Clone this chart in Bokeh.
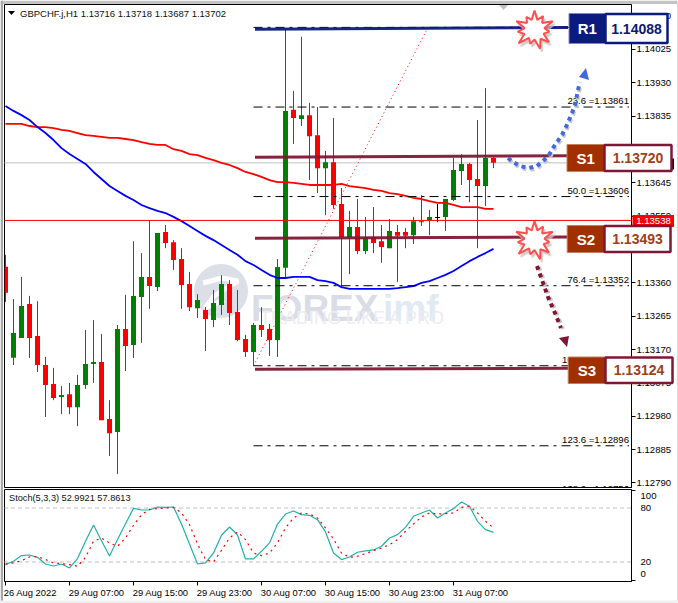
from bokeh.plotting import figure
from bokeh.layouts import column
from bokeh.models import Range1d, FixedTicker, NumeralTickFormatter
from bokeh.core.properties import value
from bokeh.embed import file_html
from bokeh.resources import INLINE
import math

# ---- price data (hourly candles) ----
opens = [1.13406,1.13147,1.13203,1.13300,1.13209,1.13126,1.13072,1.13035,1.13043,1.13006,1.13069,1.13129,1.13135,1.12972,1.12935,1.13229,1.13183,1.13320,1.13377,1.13348,1.13505,1.13476,1.13428,1.13357,1.13288,1.13283,1.13254,1.13297,1.13357,1.13277,1.13200,1.13163,1.13240,1.13229,1.13197,1.13403,1.13853,1.13827,1.13838,1.13781,1.13687,1.13704,1.13585,1.13491,1.13519,1.13451,1.13491,1.13479,1.13459,1.13505,1.13505,1.13496,1.13533,1.13539,1.13548,1.13548,1.13596,1.13679,1.13699,1.13656,1.13636,1.13716]
highs = [1.13440,1.13314,1.13377,1.13323,1.13308,1.13149,1.13118,1.13066,1.13075,1.13098,1.13226,1.13254,1.13214,1.13026,1.13240,1.13326,1.13479,1.13445,1.13539,1.13502,1.13525,1.13482,1.13459,1.13391,1.13328,1.13291,1.13340,1.13382,1.13368,1.13340,1.13212,1.13246,1.13291,1.13243,1.13428,1.14083,1.13907,1.14061,1.13873,1.13861,1.13736,1.13830,1.13630,1.13565,1.13599,1.13548,1.13576,1.13525,1.13542,1.13525,1.13516,1.13548,1.13610,1.13568,1.13585,1.13599,1.13716,1.13727,1.13702,1.13824,1.13915,1.13718]
lows = [1.13306,1.13126,1.13203,1.13146,1.13106,1.12978,1.13026,1.12986,1.12986,1.12952,1.13058,1.13075,1.12969,1.12867,1.12816,1.13109,1.13146,1.13189,1.13286,1.13337,1.13459,1.13397,1.13286,1.13280,1.13260,1.13166,1.13234,1.13269,1.13240,1.13194,1.13149,1.13123,1.13206,1.13152,1.13149,1.13374,1.13756,1.13807,1.13653,1.13616,1.13553,1.13571,1.13345,1.13385,1.13442,1.13442,1.13445,1.13417,1.13459,1.13363,1.13459,1.13471,1.13522,1.13496,1.13533,1.13508,1.13593,1.13639,1.13590,1.13459,1.13579,1.13687]
closes = [1.13332,1.13217,1.13294,1.13203,1.13126,1.13069,1.13032,1.13041,1.13006,1.13069,1.13129,1.13135,1.12969,1.12932,1.13229,1.13180,1.13323,1.13377,1.13351,1.13502,1.13474,1.13425,1.13354,1.13291,1.13311,1.13257,1.13303,1.13357,1.13274,1.13197,1.13163,1.13240,1.13226,1.13197,1.13405,1.13850,1.13830,1.13838,1.13778,1.13687,1.13704,1.13582,1.13491,1.13519,1.13451,1.13491,1.13474,1.13462,1.13508,1.13494,1.13494,1.13536,1.13536,1.13548,1.13545,1.13599,1.13682,1.13699,1.13653,1.13636,1.13716,1.13702]
blue_ma = [1.13864,1.13850,1.13838,1.13824,1.13804,1.13787,1.13767,1.13744,1.13727,1.13713,1.13699,1.13676,1.13656,1.13636,1.13622,1.13608,1.13596,1.13582,1.13573,1.13565,1.13559,1.13548,1.13536,1.13522,1.13508,1.13494,1.13482,1.13468,1.13454,1.13440,1.13422,1.13411,1.13397,1.13383,1.13374,1.13374,1.13377,1.13377,1.13377,1.13368,1.13365,1.13360,1.13348,1.13343,1.13343,1.13343,1.13343,1.13343,1.13343,1.13345,1.13348,1.13351,1.13360,1.13365,1.13374,1.13383,1.13394,1.13408,1.13422,1.13434,1.13445,1.13457]
red_ma = [1.13813,1.13813,1.13813,1.13807,1.13804,1.13804,1.13801,1.13796,1.13793,1.13787,1.13781,1.13779,1.13776,1.13773,1.13773,1.13770,1.13767,1.13761,1.13756,1.13753,1.13753,1.13741,1.13736,1.13727,1.13724,1.13716,1.13710,1.13702,1.13696,1.13687,1.13676,1.13670,1.13662,1.13653,1.13647,1.13647,1.13645,1.13642,1.13639,1.13639,1.13639,1.13639,1.13642,1.13636,1.13633,1.13630,1.13625,1.13622,1.13616,1.13613,1.13608,1.13602,1.13599,1.13593,1.13588,1.13588,1.13582,1.13576,1.13576,1.13576,1.13571,1.13571]
stoch_main = [17.1,20.8,27.1,27.8,25.2,17.8,15.6,17.8,13.4,23.8,43.0,61.1,43.7,26.7,44.9,62.6,79.6,77.8,77.8,81.1,80.7,81.1,62.2,40.0,17.8,19.0,30.0,49.7,58.9,50.0,23.4,23.4,31.9,41.2,62.2,73.3,76.7,72.6,71.9,67.0,53.4,30.0,22.7,25.6,30.8,32.3,33.4,37.5,46.7,50.4,58.5,70.8,74.5,77.8,68.9,74.5,79.3,86.7,81.9,65.2,56.0,52.99]
stoch_signal = [17.8,19.0,21.5,25.6,26.0,22.7,19.0,18.2,17.1,15.3,25.2,43.0,46.7,41.2,37.5,46.7,60.8,72.6,78.5,79.3,80.0,80.7,74.5,61.5,40.0,22.7,20.0,33.0,46.7,53.4,44.9,30.0,27.1,30.0,41.2,57.8,68.9,74.5,73.3,68.9,57.8,45.6,30.0,25.2,26.4,29.3,32.6,35.6,39.3,44.9,54.1,62.2,70.0,74.5,73.3,73.7,74.5,80.7,81.9,74.5,65.2,57.86]
assert all(len(a) == 62 for a in (opens, highs, lows, closes, blue_ma, red_ma, stoch_main, stoch_signal))

price_ticks = [1.14120,1.14025,1.13930,1.13835,1.13740,1.13645,1.13550,1.13455,1.13360,1.13265,1.13170,1.13075,1.12980,1.12885,1.12790]
time_labels = ["26 Aug 2022","29 Aug 07:00","29 Aug 15:00","29 Aug 23:00","30 Aug 07:00","30 Aug 15:00","30 Aug 23:00","31 Aug 07:00"]
fib_prices = [1.14088,1.13861,1.13606,1.13352,1.13124,1.12896,1.12756]
fib_texts = ["", "23.6 =1.13861","50.0 =1.13606","76.4 =1.13352","100.0 =1.13124","123.6 =1.12896","138.2 =1.12756"]
last_price = 1.13702
bid_line = 1.13538
level_names = ["R1","S1","S2","S3"]
level_values = ["1.14088","1.13720","1.13493","1.13124"]
level_start = [1.14083,1.13718,1.13487,1.13114]
level_end = [1.14088,1.13722,1.13491,1.13117]

FONT = "Liberation Sans"
F = value(FONT)
n = len(opens)

# screen position helpers for the decorations pasted over the chart
X = lambda px: (px - 5.5) / 8.0
Y = lambda py: 1.14166 - py * 2.849e-5

p = figure(width=678, height=488, output_backend="svg", toolbar_location=None,
           x_range=Range1d(X(4.5), X(631.5)), y_range=Range1d(Y(488.5), Y(4.5)),
           min_border_top=4, min_border_bottom=0, min_border_left=4, min_border_right=47,
           y_axis_location="right", background_fill_color="white", border_fill_color="white",
           outline_line_color="black")
p.xaxis.visible = False
p.grid.visible = False
ax = p.yaxis[0]
ax.ticker = FixedTicker(ticks=price_ticks)
ax.formatter = NumeralTickFormatter(format="0.00000")
ax.major_tick_out = 4; ax.major_tick_in = 0; ax.minor_tick_out = 0; ax.minor_tick_in = 0
ax.major_label_text_font = FONT; ax.major_label_text_font_size = "9.6px"
ax.major_label_text_color = "black"; ax.major_label_standoff = 1
ax.major_tick_line_color = "black"; ax.axis_line_color = "black"

# watermark
p.scatter([X(221)], [Y(291)], size=54, color="#DCDEE8", line_color=None)
p.line([X(203), X(222), X(238), X(214), X(205), X(224)], [Y(283), Y(278), Y(281), Y(296), Y(308), Y(300)],
       line_color="white", line_width=5)
p.text([X(251)], [Y(308)], text=["FOREX"], text_font=F, text_font_style="bold", text_font_size="37px",
       text_color="#DADCE6", text_baseline="alphabetic")
p.text([X(383)], [Y(308)], text=["imf"], text_font=F, text_font_style="bold", text_font_size="37px",
       text_color="#DFEAF3", text_baseline="alphabetic")
p.text([X(260)], [Y(318)], text=["TRADING LIKE A PRO"], text_font=F, text_font_size="18px",
       text_color="#ECECF2", text_baseline="middle")

# last price line
p.line([X(4), X(631)], [last_price, last_price], line_color="#C0C0C0", line_width=1)

# candles
idx = list(range(n))
cols = ["black" if i == 54 else ("#008000" if closes[i] >= opens[i] else "#FF0000") for i in idx]
p.segment(idx, highs, idx, lows, line_color=cols, line_width=1)
p.vbar(x=idx, top=[max(a, b) for a, b in zip(opens, closes)], bottom=[min(a, b) for a, b in zip(opens, closes)],
       width=0.625, fill_color=cols, line_color=None)

# moving averages
p.line(idx, red_ma, line_color="#FF0000", line_width=1.8)
p.line(idx, blue_ma, line_color="#0000FF", line_width=1.8)

# horizontal market line
p.line([X(4), X(631)], [bid_line, bid_line], line_color="#FF0000", line_width=1)

# fibonacci
for lv, tx in zip(fib_prices, fib_texts):
    p.line([31, X(629)], [lv, lv], line_color="black", line_width=1, line_dash="9 5 3 5")
    if tx:
        p.text([X(629)], [lv], text=[tx], text_font=F, text_font_size="9.6px", text_color="black",
               text_align="right", text_baseline="bottom", y_offset=-1)
p.line([31, X(428)], [fib_prices[4], fib_prices[0]], line_color="#FF0000", line_width=1, line_dash="1 3")

# support / resistance strokes
for i, (s_, e_) in enumerate(zip(level_start, level_end)):
    c = "#0B1A7E" if i == 0 else "#7F1734"
    p.line([X(255), X(568)], [s_, e_], line_color=c, line_width=3, line_alpha=0.95)

# stars
def star(cx, cy):
    radii = [19, 10, 16, 10, 20, 10, 15, 10, 19, 11, 20, 10, 15, 10, 21, 11, 17, 10, 20, 10, 15, 10]
    xs, ys = [], []
    for k, r in enumerate(radii):
        a = 2 * math.pi * k / len(radii)
        xs.append(cx + r * math.sin(a)); ys.append(cy - r * math.cos(a))
    return xs, ys
for cx, cy in [(534.5, 29.5), (534.5, 240)]:
    xs, ys = star(cx, cy)
    p.patch([X(v + 2) for v in xs], [Y(v + 3) for v in ys], fill_color="#BDBDBD", fill_alpha=0.7, line_color="#C8C8C8", line_alpha=0.6, line_width=2)
    p.patch([X(v) for v in xs], [Y(v) for v in ys], fill_color="white", line_color="#FF5050", line_width=2)

# dotted arrows
blue_x = [508, 513, 520, 529, 537, 543, 549, 553, 557, 562, 566, 569, 572, 575, 578, 580]
blue_y = [158, 162, 166, 168, 166, 161, 155, 148, 142, 135, 127, 120, 113, 105, 90, 82]
p.line([X(v + 1) for v in blue_x], [Y(v + 2) for v in blue_y], line_color="#C8C8C8", line_width=4, line_dash="4 4")
p.line([X(v) for v in blue_x], [Y(v) for v in blue_y], line_color="#4169E1", line_width=4, line_dash="4 4")
p.patch([X(579), X(586), X(589)], [Y(77), Y(68), Y(80)], fill_color="#4169E1", line_color=None)
mar_x = [537, 542, 548, 555, 561]
mar_y = [266, 280, 297, 313, 328]
p.line([X(v + 2) for v in mar_x], [Y(v + 1) for v in mar_y], line_color="#C8C8C8", line_width=4, line_dash="4 4")
p.line([X(v) for v in mar_x], [Y(v) for v in mar_y], line_color="#7F1734", line_width=4, line_dash="4 4")
p.patch([X(559), X(569), X(567)], [Y(338), Y(336), Y(347)], fill_color="#7F1734", line_color=None)

# small triangles
p.patch([X(8), X(15), X(11.5)], [Y(11), Y(11), Y(15)], fill_color="black", line_color=None)
p.patch([X(499), X(508), X(503.5)], [Y(5), Y(5), Y(10)], fill_color="#C0C0C0", line_color=None)

p.text([X(20)], [Y(13)], text=["GBPCHF.j,H1  1.13716 1.13718 1.13687 1.13702"], text_font=F, text_font_size="9.5px",
       text_color="#101010", text_baseline="middle")

# ---- stochastic pane ----
Vs = lambda py: (580 - py) / 0.9
s = figure(width=678, height=115, output_backend="svg", toolbar_location=None,
           x_range=p.x_range, y_range=Range1d(Vs(581.5), Vs(489.5)),
           min_border_top=1, min_border_bottom=22, min_border_left=4, min_border_right=47,
           y_axis_location="right", background_fill_color="white", border_fill_color="white",
           outline_line_color="black")
s.grid.visible = False
ya = s.yaxis[0]
ya.ticker = FixedTicker(ticks=[7.2, 20, 80, 93], minor_ticks=[0, 100])
ya.major_label_overrides = {7.2: "0", 20: "20", 80: "80", 93: "100"}
ya.major_tick_out = 0; ya.major_tick_in = 0; ya.minor_tick_out = 4; ya.minor_tick_in = 0
ya.major_label_standoff = 5
ya.major_label_text_font = FONT; ya.major_label_text_font_size = "9.6px"; ya.major_label_text_color = "black"
xa = s.xaxis[0]
minor_pos = [8 * k for k in range(len(time_labels))]
major_pos = [3.1] + [m + 3.4 for m in minor_pos[1:]]
xa.ticker = FixedTicker(ticks=major_pos, minor_ticks=minor_pos)
xa.major_label_overrides = dict(zip(major_pos, time_labels))
xa.major_tick_out = 0; xa.major_tick_in = 0; xa.minor_tick_out = 4; xa.minor_tick_in = 0
xa.major_label_standoff = 1
xa.major_label_text_font = FONT; xa.major_label_text_font_size = "9.4px"; xa.major_label_text_color = "black"

for lv in (80, 20):
    s.line([X(4), X(631)], [lv, lv], line_color="#C0C0C0", line_width=1, line_dash="4 3")
s.line(idx, stoch_main, line_color="#20B2AA", line_width=1.2)
s.line(idx, stoch_signal, line_color="#FF0000", line_width=1.2, line_dash="2 4")
s.text([X(9)], [Vs(498)], text=["Stoch(5,3,3) 52.9921 57.8613"], text_font=F, text_font_size="9.2px",
       text_color="#101010", text_baseline="middle")

# ---- transparent overlay in window pixels: level boxes, price tags, window edge ----
o = figure(width=678, height=603, output_backend="svg", toolbar_location=None,
           x_range=Range1d(0, 678), y_range=Range1d(603, 0), min_border=0,
           background_fill_alpha=0, border_fill_alpha=0, outline_line_color=None)
o.axis.visible = False
o.grid.visible = False
o.styles = {"position": "absolute", "left": "0px", "top": "0px", "z-index": "10", "pointer-events": "none"}

def box(l, r, t, b, fill, line=None, lw=0):
    o.quad(left=[l], right=[r], top=[t], bottom=[b], fill_color=fill, line_color=line, line_width=lw)

def label(px, py, txt, color, size, style="normal"):
    o.text([px], [py], text=[txt], text_color=color, text_font=F, text_font_size=size, text_font_style=style,
           text_align="center", text_baseline="middle")

box(0, 678, 0, 3.5, "#C4C4C4")
box(0, 2.5, 0, 603, "#A8A8A8")
box(676.5, 678, 0, 603, "#D8D8D8")
box(0, 678, 600, 603, "#EFEFEF")

box(632, 673.5, 158, 169, "black")
box(632, 673.5, 214.5, 226.5, "#FF0000")
label(653, 220.5, "1.13538", "white", "9.6px")

geo = [(568.5, 605, 667, 13, 43), (566.5, 604, 671, 144, 171), (566.7, 604, 670, 225, 252), (567.7, 605, 672, 356.5, 383)]
for i, (l, m, r, t, b) in enumerate(geo):
    fill = "#0B1A7E" if i == 0 else "#A03000"
    edge = "#0B1A7E" if i == 0 else "#7F1734"
    txt = "#10186E" if i == 0 else "#A0401A"
    box(l, m, t, b, fill, "#8088B8" if i == 0 else "#C08060", 1)
    box(m, r, t + 0.5, b - 0.5, "white", edge, 2.5)
    label((l + m) / 2, (t + b) / 2, level_names[i], "white", "15px", "bold")
    label((m + r) / 2, (t + b) / 2, level_values[i], txt, "14px", "bold")

layout = column(p, s, spacing=0)
open("out.html", "w").write(file_html([layout, o], INLINE))
